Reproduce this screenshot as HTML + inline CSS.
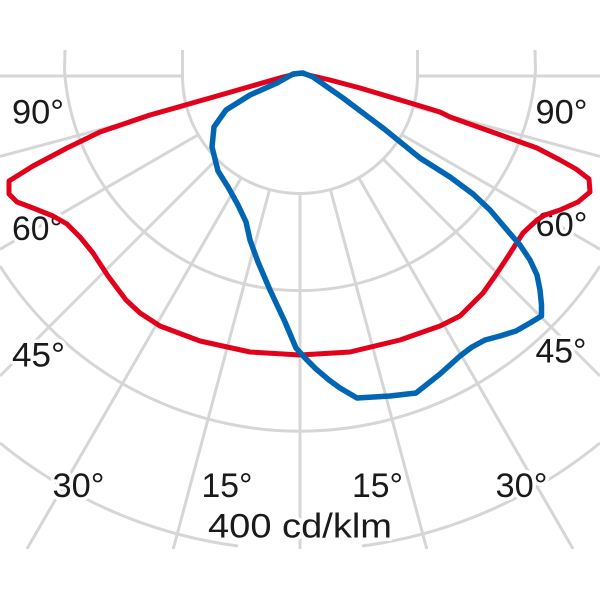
<!DOCTYPE html>
<html><head><meta charset="utf-8"><style>
html,body{margin:0;padding:0;background:#fff;width:600px;height:600px;overflow:hidden;}
svg{display:block;overflow:hidden;}
text{font-family:"Liberation Sans",sans-serif;fill:#1a1a1a;paint-order:stroke;stroke:#fff;stroke-width:7px;stroke-linejoin:round;}
</style></head><body>
<svg width="600" height="600" viewBox="0 0 600 600" xmlns="http://www.w3.org/2000/svg">
<defs><clipPath id="c"><rect x="0" y="50" width="600" height="499"/></clipPath></defs>
<g clip-path="url(#c)" stroke="#d6d6d6" stroke-width="3" fill="none">
<path d="M182.5 50 L182.5 76 A117.5 117.5 0 0 0 417.5 76 L417.5 50"/>
<path d="M65 50 L64.5 70 A236 236 0 0 0 535.5 70 L535 50"/>
<path d="M0 266 A355 355 0 0 0 600 266"/>
<path d="M0 443 A474 474 0 0 0 238.1 546"/>
<path d="M361.9 546 A474 474 0 0 0 600 443"/>
<line x1="300" y1="193.5" x2="300" y2="549"/>
<line x1="269.6" y1="189.5" x2="173.2" y2="549"/>
<line x1="330.4" y1="189.5" x2="426.8" y2="549"/>
<line x1="241.25" y1="177.8" x2="26.9" y2="549"/>
<line x1="358.75" y1="177.8" x2="573.1" y2="549"/>
<line x1="216.9" y1="159.1" x2="0" y2="376"/>
<line x1="383.1" y1="159.1" x2="600" y2="376"/>
<line x1="198.2" y1="134.75" x2="0" y2="249.2"/>
<line x1="401.8" y1="134.75" x2="600" y2="249.2"/>
<line x1="186.5" y1="106.4" x2="0" y2="156.4"/>
<line x1="413.5" y1="106.4" x2="600" y2="156.4"/>
<line x1="182.5" y1="76" x2="0" y2="76"/>
<line x1="417.5" y1="76" x2="600" y2="76"/>
</g>
<g font-size="34">
<text x="12" y="123.5" textLength="52" lengthAdjust="spacingAndGlyphs">90°</text>
<text x="535.5" y="123.5" textLength="52" lengthAdjust="spacingAndGlyphs">90°</text>
<text x="12" y="240" textLength="51" lengthAdjust="spacingAndGlyphs">60°</text>
<text x="535.5" y="236" textLength="52" lengthAdjust="spacingAndGlyphs">60°</text>
<text x="12" y="366.5" textLength="53" lengthAdjust="spacingAndGlyphs">45°</text>
<text x="535.5" y="362.5" textLength="51" lengthAdjust="spacingAndGlyphs">45°</text>
<text x="52.5" y="497" textLength="52" lengthAdjust="spacingAndGlyphs">30°</text>
<text x="495.5" y="497" textLength="52" lengthAdjust="spacingAndGlyphs">30°</text>
<text x="201.5" y="497" textLength="51" lengthAdjust="spacingAndGlyphs">15°</text>
<text x="352" y="497" textLength="51" lengthAdjust="spacingAndGlyphs">15°</text>
<text x="208" y="537.5" textLength="184" lengthAdjust="spacingAndGlyphs">400 cd/klm</text>
</g>
<polygon fill="none" stroke="#e2001a" stroke-width="5" stroke-linejoin="round" points="300,73 330,80 360,88 417,105 440,112 450,117 495,133 537,148 560,160 576,169 589,179 590,192 578,202 560,210 545,215 537,220 523,233 507,258 495,276 483,293 460,316 440,326 400,340 350,352 300,355 250,352 200,341 160,326 140,313 126,300 108,276 93,253 80,237 67,224 53,216 33,208 17,202 9,194 9,181 33,166 67,148 100,132 150,115 217,96 283,77"/>
<polygon fill="none" stroke="#0066b3" stroke-width="5.5" stroke-linejoin="round" points="303,73 313,77 343,98 383,128 420,158 450,177 473,194 490,210 507,230 520,245 530,260 537,275 540,290 541.5,305 541.5,316 530,323 516,331 500,336 485,340 472,347 460,356 440,374 416,393 390,396 357,398 340,388 329,380 316,369 306,359 296,348 285,322 270,290 258,262 250,240 246,222 238,205 228,187 218,171 212,147 214,127 226,110 250,95 277,83 293,74"/>
</svg>
</body></html>
